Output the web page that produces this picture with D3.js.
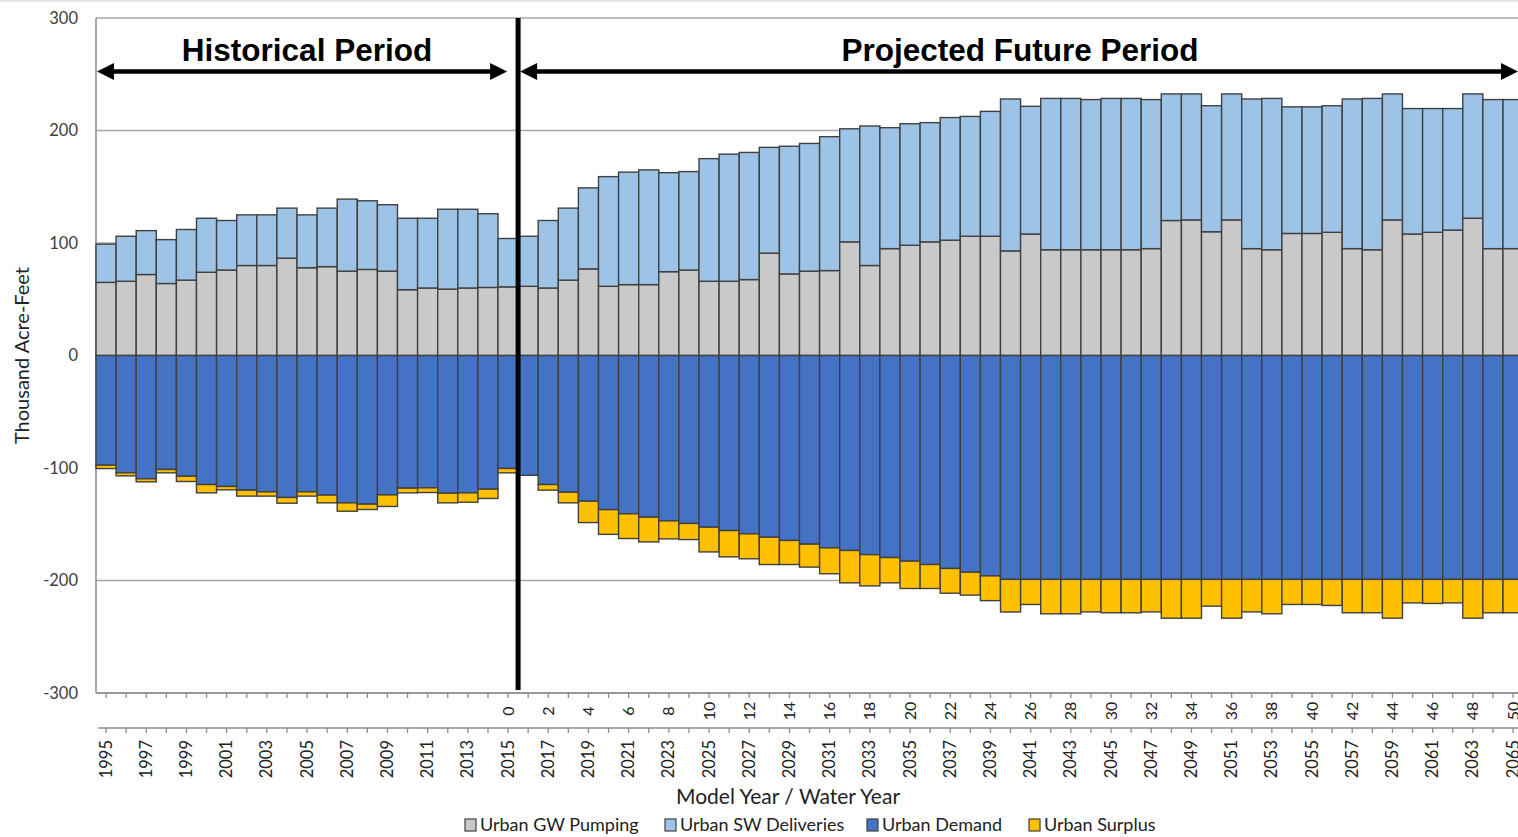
<!DOCTYPE html>
<html>
<head>
<meta charset="utf-8">
<script src="https://cdn.jsdelivr.net/npm/d3@7"></script>
<style>
  html, body { margin: 0; padding: 0; background: #fff; }
  svg { display: block; }
</style>
</head>
<body>
<svg id="chart" width="1518" height="837"></svg>
<script>
// ---------- DATA ----------
const years = d3.range(1995, 2066);
const yTicks = [-300, -200, -100, 0, 100, 200, 300];
const modelYearLabels = d3.range(0, 51, 2);   // model year = water year - 2015
const seriesNames = ["Urban GW Pumping", "Urban SW Deliveries", "Urban Demand", "Urban Surplus"];
const seriesColors = ["#C9C9C9", "#9DC3E6", "#4472C4", "#FFC000"];

const gwPumping = [65, 66, 72, 64, 67, 74, 76, 80, 80, 86.5, 78, 79, 75, 76.5, 75, 58.5, 60, 59, 60, 60.5, 61,
  61.5, 60, 67, 77, 61.5, 63, 63, 74.5, 76, 66, 66, 67.5, 91, 72.5, 75, 75.5, 101, 80, 95, 98, 101, 102.5, 106, 106,
  93, 108, 94, 94, 94, 94, 94, 95, 120, 120.5, 110, 120.5, 95, 94, 108.5, 108.5, 109.5, 95, 94, 120.5, 108, 109.5, 111.5, 122, 95, 95];
const swDeliveries = [34, 40, 39, 39, 45, 48, 44, 45, 45, 44.5, 47, 52, 64, 61, 59, 63.5, 62, 71, 70, 65.5, 43,
  44.5, 60, 64, 72, 97.5, 100, 102, 88, 87.5, 109, 113, 113, 94, 113.5, 113.5, 119, 100.5, 124, 107.5, 108, 106, 109, 106.5, 111,
  135, 113.5, 134.5, 134.5, 133.5, 134.5, 134.5, 132.5, 112.5, 112, 112, 112, 133, 134.5, 112.5, 112.5, 112.5, 133, 134.5, 112, 111.5, 110, 108, 110.5, 132.5, 132.5];
const urbanDemand = [97.5, 104.3, 109.6, 101.3, 107.3, 114.7, 116.4, 119.7, 121.2, 126.2, 121.2, 124.1, 131, 132.1, 123.9, 117.9, 117.6, 122.4, 122.1, 118.8, 100.4,
  106.5, 114.7, 121.5, 129.5, 137, 140.7, 143.7, 147, 149.3, 152.6, 155.6, 158.5, 161.5, 164.4, 167.7, 171, 173.3, 177, 179.6, 182.8, 185.8, 189.3, 192.6, 195.9,
  199, 199, 199, 199, 199, 199, 199, 199, 199, 199, 199, 199, 199, 199, 199, 199, 199, 199, 199, 199, 199, 199, 199, 199, 199, 199];
const urbanSurplus = [3, 2.7, 2.7, 3, 4.7, 7.4, 3, 5.3, 3.8, 5.1, 3.8, 6.9, 7.4, 4.8, 10.3, 4.2, 4.2, 8.6, 8.3, 8.3, 3.9,
  0, 5, 9.5, 19, 22, 22, 22, 16, 14.3, 22, 23.4, 22.2, 24.3, 21.4, 20.4, 23, 28.8, 27.8, 22.5, 24.3, 21.3, 22, 20.4, 22,
  29, 22.3, 30.6, 30.6, 28.9, 29.7, 29.7, 28.9, 34.5, 34.5, 23.8, 34.5, 28.9, 30.6, 22.3, 22.3, 23.2, 29.7, 29.7, 34.5, 20.9, 21.4, 20.9, 34.5, 29.7, 29.7];

// ---------- LAYOUT ----------
const svg = d3.select("#chart");
const plotLeft = 96, plotTop = 18, plotBottom = 693;
const barStep = 20.1;
const x = d3.scaleBand().domain(years).range([plotLeft, plotLeft + years.length * barStep]).padding(0);
const y = d3.scaleLinear().domain([-300, 300]).range([plotBottom, plotTop]);
const rightEdge = 1518;
const fontUI = "Lato, 'Open Sans', sans-serif";

// faint top border of the picture
svg.append("line").attr("x1", 0).attr("x2", rightEdge).attr("y1", 1).attr("y2", 1)
  .attr("stroke", "#dcdcdc").attr("stroke-width", 1.5);

// gridlines
svg.append("g").selectAll("line").data(yTicks).join("line")
  .attr("x1", plotLeft).attr("x2", rightEdge + 10)
  .attr("y1", d => y(d)).attr("y2", d => y(d))
  .attr("stroke", "#A6A6A6").attr("stroke-width", 1.5);

// left plot border
svg.append("line").attr("x1", plotLeft).attr("x2", plotLeft).attr("y1", plotTop).attr("y2", plotBottom)
  .attr("stroke", "#8c8c8c").attr("stroke-width", 1.5);

// ---------- BARS ----------
const rows = years.map((yr, i) => ({
  year: yr, gw: gwPumping[i], sw: swDeliveries[i], dem: urbanDemand[i], sur: urbanSurplus[i]
}));
const segs = [];
rows.forEach(r => {
  segs.push({ year: r.year, y0: 0, y1: r.gw, c: seriesColors[0] });
  segs.push({ year: r.year, y0: r.gw, y1: r.gw + r.sw, c: seriesColors[1] });
  segs.push({ year: r.year, y0: 0, y1: -r.dem, c: seriesColors[2] });
  if (r.sur > 0) segs.push({ year: r.year, y0: -r.dem, y1: -r.dem - r.sur, c: seriesColors[3] });
});
svg.append("g").selectAll("rect").data(segs).join("rect")
  .attr("x", d => x(d.year))
  .attr("width", x.bandwidth())
  .attr("y", d => y(Math.max(d.y0, d.y1)))
  .attr("height", d => Math.abs(y(d.y0) - y(d.y1)))
  .attr("fill", d => d.c)
  .attr("stroke", "#404040").attr("stroke-width", 1.4);

// ---------- Y AXIS ----------
const yAxis = svg.append("g").attr("transform", `translate(${plotLeft},0)`)
  .call(d3.axisLeft(y).tickValues(yTicks).tickSize(0).tickPadding(18).tickFormat(d => String(d)));
yAxis.select(".domain").remove();
yAxis.selectAll("text").attr("font-family", fontUI).attr("font-size", 16.5).attr("fill", "#404040");

svg.append("text")
  .attr("transform", `translate(29,${y(0)}) rotate(-90)`)
  .attr("text-anchor", "middle")
  .attr("font-family", fontUI).attr("font-size", 20).attr("fill", "#222")
  .text("Thousand Acre-Feet");

// ---------- X AXES ----------
// main axis line with ticks at bar centres
const xAxis1 = svg.append("g").attr("transform", `translate(0,${plotBottom})`)
  .call(d3.axisBottom(x).tickSize(5).tickFormat(""));
xAxis1.select(".domain").attr("stroke", "#8c8c8c").attr("stroke-width", 1.5)
  .attr("d", `M${plotLeft},0H${rightEdge + 10}`);
xAxis1.selectAll(".tick line").attr("stroke", "#8c8c8c").attr("stroke-width", 1.3);

// model-year labels
svg.append("g").selectAll("text").data(modelYearLabels).join("text")
  .attr("transform", d => `translate(${x(2015 + d) + x.bandwidth() / 2 + 5.5},711) rotate(-90)`)
  .attr("text-anchor", "middle")
  .attr("font-family", fontUI).attr("font-size", 16).attr("fill", "#222")
  .text(d => d);

// second axis line
const xAxis2 = svg.append("g").attr("transform", `translate(0,728)`)
  .call(d3.axisBottom(x).tickSize(5).tickFormat(""));
xAxis2.select(".domain").attr("stroke", "#8c8c8c").attr("stroke-width", 1.5)
  .attr("d", `M${plotLeft + 2},0H${rightEdge + 10}`);
xAxis2.selectAll(".tick line").attr("stroke", "#8c8c8c").attr("stroke-width", 1.3);

// water-year labels (every other year)
svg.append("g").selectAll("text").data(years.filter(d => (d - 1995) % 2 === 0)).join("text")
  .attr("transform", d => `translate(${x(d) + x.bandwidth() / 2 + 5.5},740) rotate(-90)`)
  .attr("text-anchor", "end")
  .attr("font-family", fontUI).attr("font-size", 16.5).attr("fill", "#222")
  .text(d => d);

svg.append("text")
  .attr("x", 788).attr("y", 804)
  .attr("text-anchor", "middle")
  .attr("font-family", fontUI).attr("font-size", 21).attr("fill", "#222")
  .text("Model Year / Water Year");

// ---------- LEGEND ----------
const legendX = [465, 665, 867, 1029];
const lg = svg.append("g").selectAll("g").data(seriesNames).join("g")
  .attr("transform", (d, i) => `translate(${legendX[i]},819)`);
lg.append("rect").attr("width", 11).attr("height", 12)
  .attr("fill", (d, i) => seriesColors[i]).attr("stroke", "#404040").attr("stroke-width", 1.2);
lg.append("text").attr("x", 15).attr("y", 12)
  .attr("font-family", fontUI).attr("font-size", 18).attr("fill", "#222")
  .text(d => d);

// ---------- PERIOD ANNOTATIONS ----------
const divX = x(2016);
svg.append("line").attr("x1", divX).attr("x2", divX).attr("y1", plotTop).attr("y2", 690)
  .attr("stroke", "#000").attr("stroke-width", 5);

function arrow(x1, x2, yy) {
  const head = 17, half = 8.5;
  svg.append("line").attr("x1", x1 + head - 2).attr("x2", x2 - head + 2).attr("y1", yy).attr("y2", yy)
    .attr("stroke", "#000").attr("stroke-width", 4.5);
  svg.append("path").attr("d", `M${x1},${yy}L${x1 + head},${yy - half}L${x1 + head},${yy + half}Z`).attr("fill", "#000");
  svg.append("path").attr("d", `M${x2},${yy}L${x2 - head},${yy - half}L${x2 - head},${yy + half}Z`).attr("fill", "#000");
}
arrow(plotLeft + 1, divX - 11, 71.5);
arrow(divX + 2, rightEdge, 71.5);

svg.append("text").attr("x", 307).attr("y", 61).attr("text-anchor", "middle")
  .attr("font-family", "'Liberation Sans', Arial, sans-serif").attr("font-weight", "bold")
  .attr("font-size", 31.5).attr("fill", "#000").text("Historical Period");
svg.append("text").attr("x", 1020).attr("y", 61).attr("text-anchor", "middle")
  .attr("font-family", "'Liberation Sans', Arial, sans-serif").attr("font-weight", "bold")
  .attr("font-size", 31.5).attr("fill", "#000").text("Projected Future Period");
</script>
</body>
</html>
